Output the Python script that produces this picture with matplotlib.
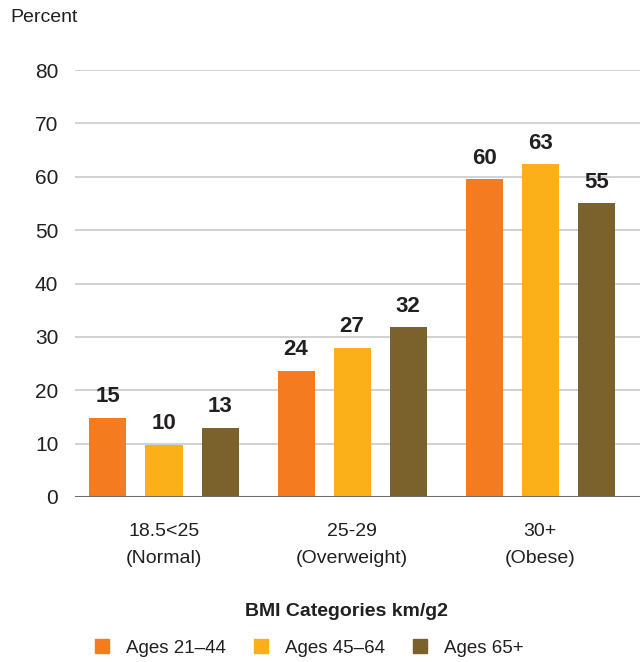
import matplotlib
matplotlib.use("Agg")
import matplotlib.pyplot as plt
import numpy as np

plt.rcParams['font.family'] = ['Liberation Sans', 'DejaVu Sans']

categories = ["18.5<25\n(Normal)", "25-29\n(Overweight)", "30+\n(Obese)"]
series_names = ["Ages 21\u201344", "Ages 45\u201364", "Ages 65+"]
ages_21_44 = [14.8, 23.7, 59.5]
ages_45_64 = [9.8, 27.9, 62.3]
ages_65_plus = [12.9, 31.8, 55.0]
labels_21_44 = ["15", "24", "60"]
labels_45_64 = ["10", "27", "63"]
labels_65_plus = ["13", "32", "55"]
yticks = [0, 10, 20, 30, 40, 50, 60, 70, 80]
colors = ["#F47B20", "#FBB01A", "#7B622D"]
TXT = '#231f20'
FS = 14

fig = plt.figure(figsize=(6.4, 6.62), dpi=100)
ax = fig.add_axes([75/640, 1-497/662, 1-75/640, (497-70)/662])

x = np.arange(len(categories))
offs = [-0.298, 0, 0.298]
w = 0.197
series = [ages_21_44, ages_45_64, ages_65_plus]
labs = [labels_21_44, labels_45_64, labels_65_plus]
for i in range(3):
    bars = ax.bar(x + offs[i], series[i], width=w, color=colors[i], zorder=3, label=series_names[i])
    for b, t in zip(bars, labs[i]):
        ax.text(b.get_x() + b.get_width()/2, b.get_height() + 2.0, t, ha='center', va='bottom',
                fontsize=16, fontweight='bold', color=TXT)

ax.set_xlim(-0.473, 2.53)
ax.set_ylim(0, 80)
ax.set_yticks(yticks)
ax.set_yticklabels([str(v) for v in yticks], fontsize=FS + 1, color=TXT)
ax.tick_params(axis='y', length=0, pad=12)
ax.set_xticks(x)
ax.set_xticklabels(categories, fontsize=FS, color=TXT, linespacing=1.75)
ax.tick_params(axis='x', length=0, pad=19)
for v in yticks[1:]:
    ax.axhline(v, color='#c9c9cc', lw=1.2, zorder=1)
ax.axhline(0, color='#6d6d6d', lw=2.2, zorder=4)
for s in ax.spines.values():
    s.set_visible(False)

fig.text(10/640, 1-18/662, "Percent", fontsize=FS, color=TXT, va='center', ha='left')
fig.text(346/640, 1-611/662, "BMI Categories km/g2", fontsize=FS, fontweight='bold',
         color=TXT, ha='center', va='center')

handles = [plt.Rectangle((0, 0), 1, 1, color=c) for c in colors]
fig.legend(handles, series_names, loc='center', bbox_to_anchor=(309/640, 1-648/662), ncol=3,
           frameon=False, fontsize=13.5, handlelength=0.75, handleheight=0.75, handletextpad=0.9,
           columnspacing=1.5, labelcolor=TXT)

fig.savefig("out.png", dpi=100)
